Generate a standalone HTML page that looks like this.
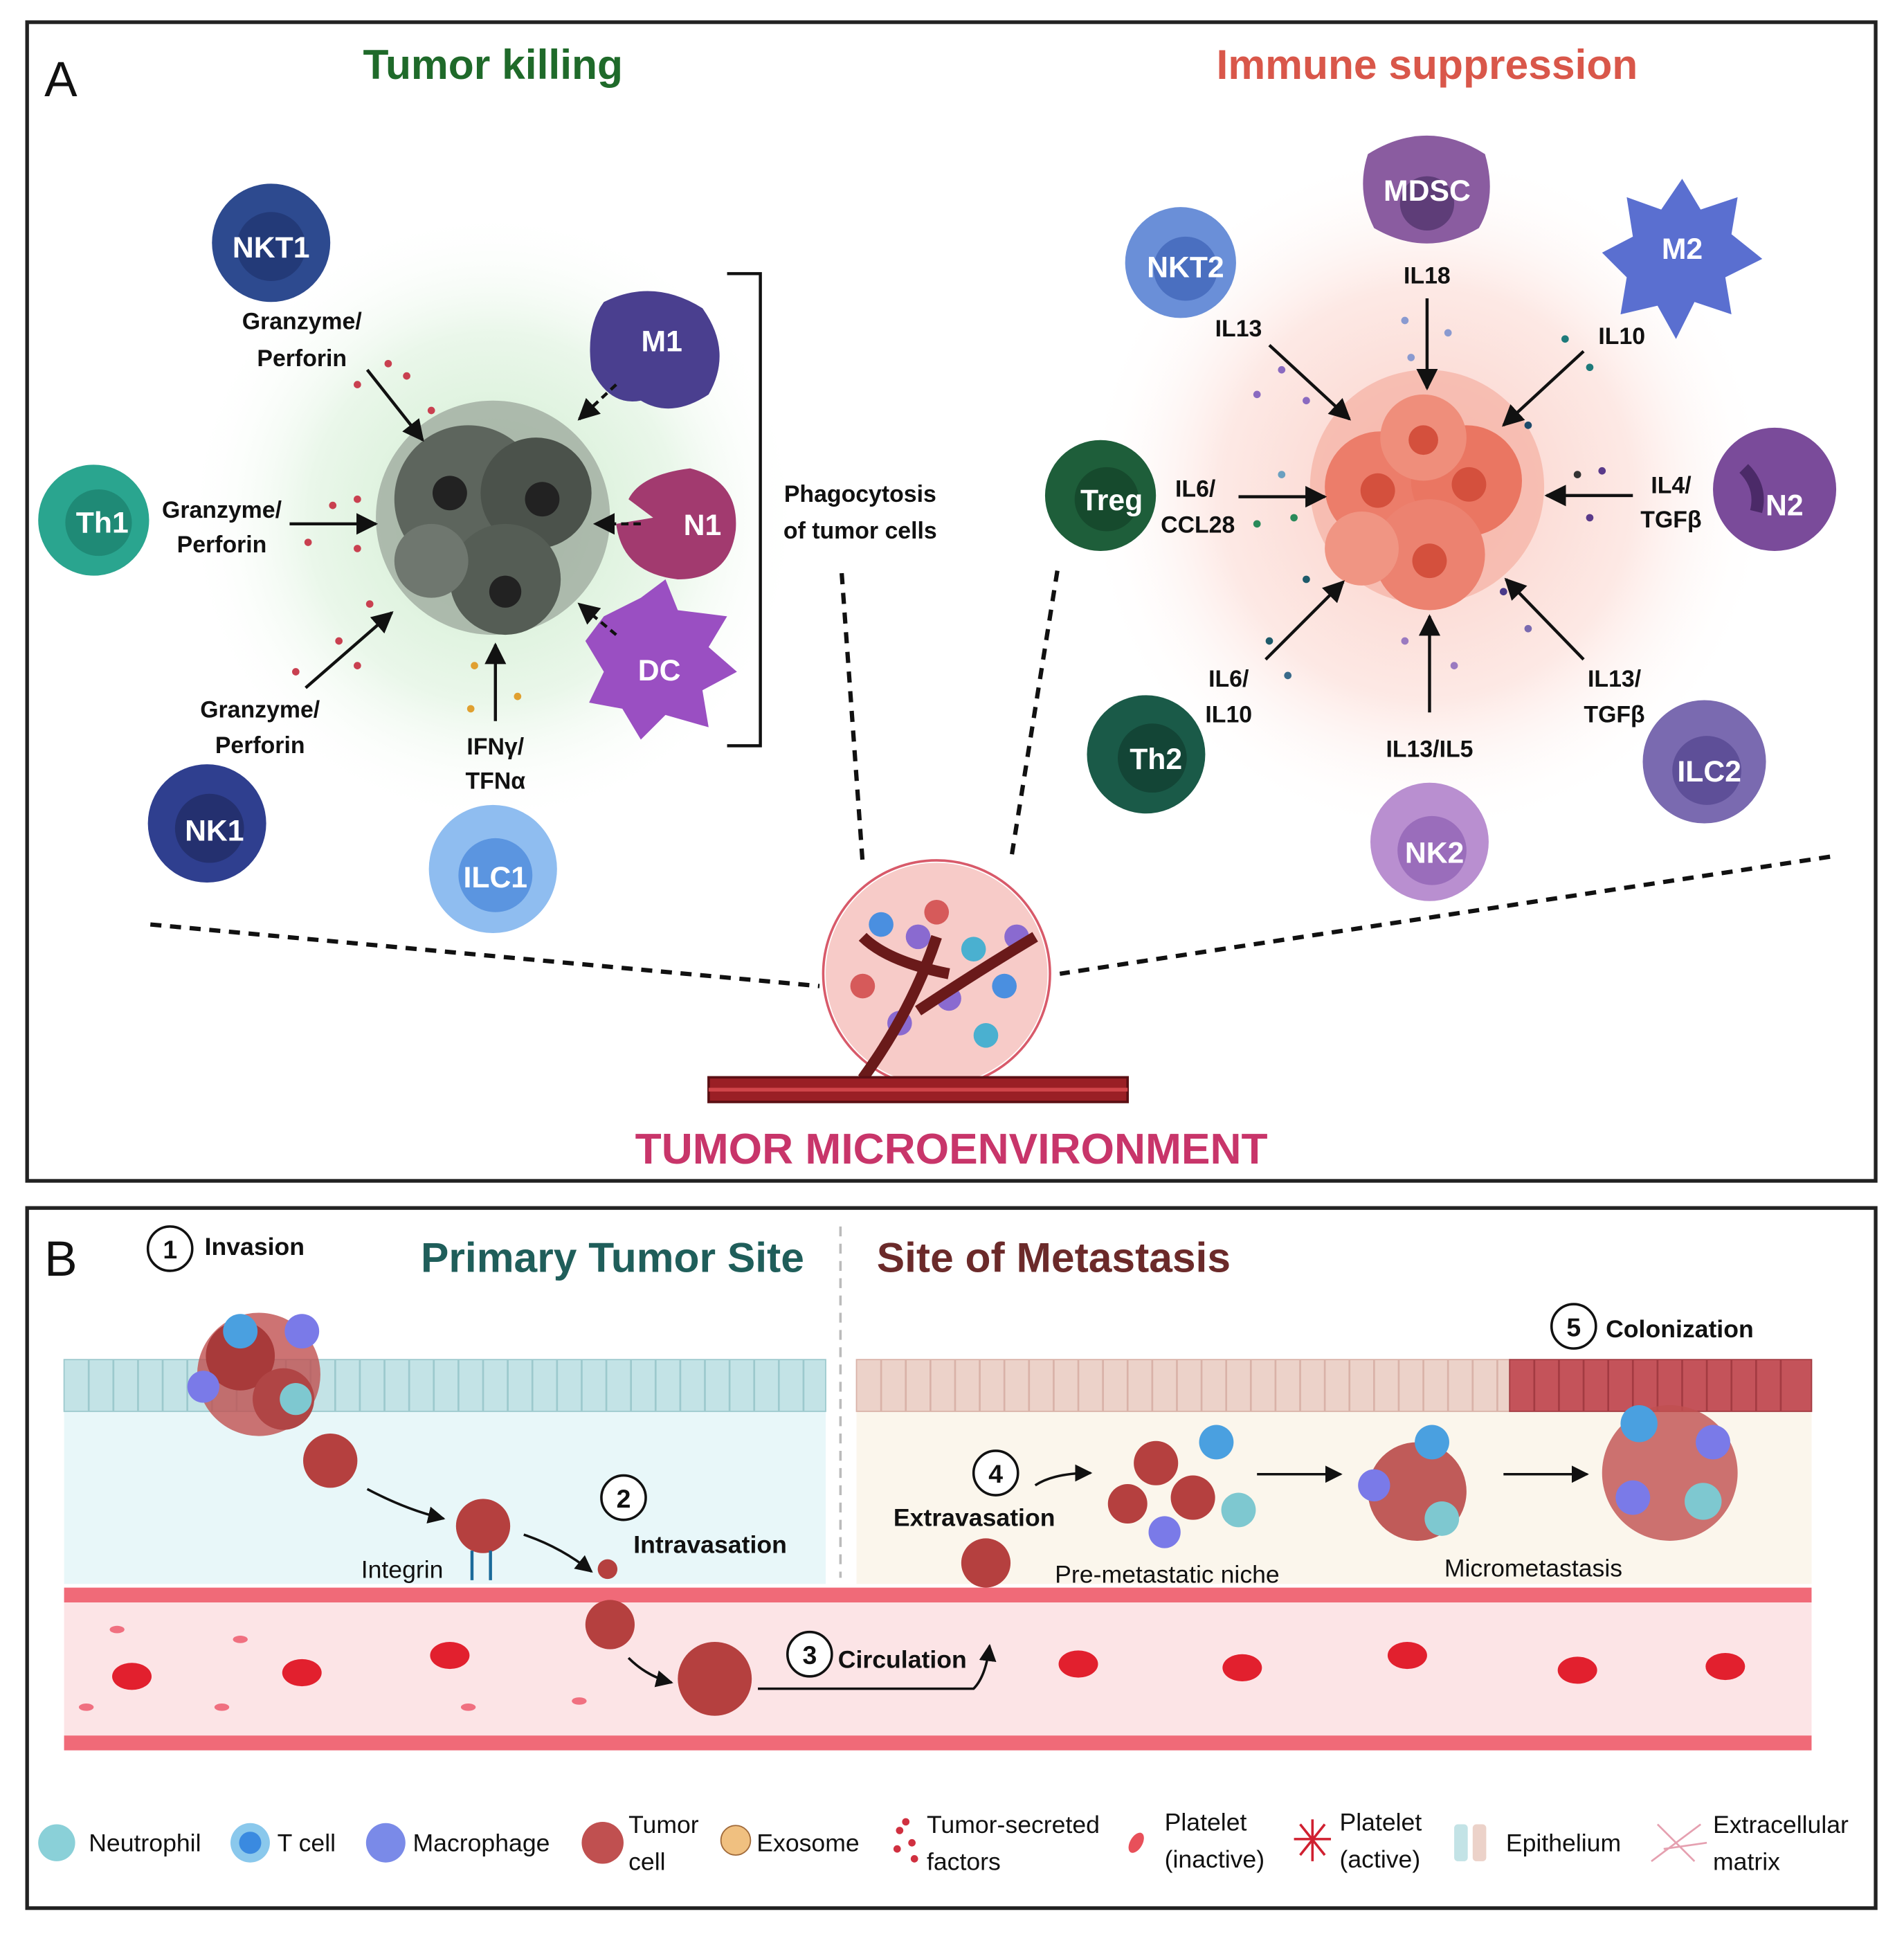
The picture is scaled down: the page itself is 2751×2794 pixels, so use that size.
<!DOCTYPE html>
<html><head><meta charset="utf-8"><style>
html,body{margin:0;padding:0;background:#fff}
svg{display:block}
text{font-family:"Liberation Sans",sans-serif;font-weight:bold}
text.n{font-weight:normal !important}
</style></head><body>
<svg width="2751" height="2794" viewBox="0 0 1545 1569" preserveAspectRatio="none" xmlns="http://www.w3.org/2000/svg">
<defs>
<radialGradient id="gg"><stop offset="0" stop-color="#cfeccf"/><stop offset="0.6" stop-color="#eaf7ea"/><stop offset="1" stop-color="#fff" stop-opacity="0"/></radialGradient>
<radialGradient id="rg"><stop offset="0" stop-color="#fbd0c8"/><stop offset="0.6" stop-color="#fde9e5"/><stop offset="1" stop-color="#fff" stop-opacity="0"/></radialGradient>
<marker id="ah" viewBox="0 0 10 10" refX="9" refY="5" markerWidth="7" markerHeight="7" orient="auto"><path d="M0,0L10,5L0,10z" fill="#111"/></marker>
</defs>
<rect x="0" y="0" width="1545" height="1569" fill="#fff"/>
<rect x="22" y="18" width="1500" height="940" fill="#fff" stroke="#222" stroke-width="3"/>
<text x="36" y="78" font-size="40" class="n" fill="#111">A</text>
<text x="400" y="64" font-size="34" fill="#1f6a2a" text-anchor="middle">Tumor killing</text>
<text x="1158" y="64" font-size="34" fill="#d9574a" text-anchor="middle">Immune suppression</text>
<circle cx="400" cy="420" r="250" fill="url(#gg)"/>
<circle cx="1158" cy="400" r="280" fill="url(#rg)"/>
<g>
<circle cx="400" cy="420" r="95" fill="#8a958a" opacity="0.6"/>
<circle cx="380" cy="405" r="60" fill="#5d655d"/>
<circle cx="435" cy="400" r="45" fill="#4b524b"/>
<circle cx="410" cy="470" r="45" fill="#555d55"/>
<circle cx="350" cy="455" r="30" fill="#6f776f"/>
<circle cx="365" cy="400" r="14" fill="#222"/><circle cx="440" cy="405" r="14" fill="#222"/><circle cx="410" cy="480" r="13" fill="#222"/>
</g>
<g font-size="24" fill="#fff" text-anchor="middle">
<circle cx="220" cy="197" r="48" fill="#2d4a8f"/><circle cx="220" cy="200" r="28" fill="#233a78"/><text x="220" y="209" fill="#fff">NKT1</text>
<circle cx="76" cy="422" r="45" fill="#2aa58f"/><circle cx="80" cy="424" r="27" fill="#1f8a76"/><text x="83" y="432" fill="#fff">Th1</text>
<circle cx="168" cy="668" r="48" fill="#2f3f8f"/><circle cx="170" cy="672" r="28" fill="#24306f"/><text x="174" y="682" fill="#fff">NK1</text>
<circle cx="400" cy="705" r="52" fill="#8fbdf0"/><circle cx="402" cy="710" r="30" fill="#5b95e0"/><text x="402" y="720" fill="#fff">ILC1</text>
<path d="M490,245 Q530,225 570,250 Q595,285 575,320 Q545,340 520,325 Q495,330 480,300 Q475,265 490,245z" fill="#4a3f8f"/><text x="537" y="285" fill="#fff">M1</text>
<path d="M560,380 Q600,390 597,430 Q592,470 550,470 Q505,465 500,425 L530,420 L510,405 Q520,385 560,380z" fill="#a23a6f"/><text x="570" y="434" fill="#fff">N1</text>
<path d="M490,500 L520,485 L540,470 L550,495 L590,500 L575,525 L598,545 L570,560 L575,590 L540,580 L520,600 L505,575 L478,570 L490,545 L475,520z" fill="#9a4fc2"/><text x="535" y="552" fill="#fff">DC</text>
</g>
<g font-size="19" fill="#111" text-anchor="middle">
<text x="245" y="267">Granzyme/</text><text x="245" y="297">Perforin</text>
<text x="180" y="420">Granzyme/</text><text x="180" y="448">Perforin</text>
<text x="211" y="582">Granzyme/</text><text x="211" y="611">Perforin</text>
<text x="402" y="612">IFNγ/</text><text x="402" y="640">TFNα</text>
<text x="698" y="407">Phagocytosis</text><text x="698" y="437">of tumor cells</text>
</g>
<g stroke="#111" stroke-width="2.5" fill="none" marker-end="url(#ah)">
<line x1="298" y1="300" x2="343" y2="357"/>
<line x1="235" y1="425" x2="305" y2="425"/>
<line x1="248" y1="558" x2="318" y2="497"/>
<line x1="402" y1="585" x2="402" y2="523"/>
<line x1="500" y1="312" x2="470" y2="340" stroke-dasharray="6,4"/>
<line x1="520" y1="425" x2="483" y2="425" stroke-dasharray="6,4"/>
<line x1="500" y1="515" x2="470" y2="490" stroke-dasharray="6,4"/>
</g>
<path d="M590,222 H617 V605 H590" stroke="#111" stroke-width="2.5" fill="none"/>
<g fill="#c94050">
<circle cx="290" cy="312" r="3"/><circle cx="315" cy="295" r="3"/><circle cx="330" cy="305" r="3"/><circle cx="350" cy="333" r="3"/><circle cx="270" cy="410" r="3"/><circle cx="290" cy="405" r="3"/><circle cx="250" cy="440" r="3"/><circle cx="290" cy="445" r="3"/><circle cx="240" cy="545" r="3"/><circle cx="275" cy="520" r="3"/><circle cx="300" cy="490" r="3"/><circle cx="290" cy="540" r="3"/><circle cx="385" cy="540" r="3" fill="#e0a030"/><circle cx="420" cy="565" r="3" fill="#e0a030"/><circle cx="382" cy="575" r="3" fill="#e0a030"/>
</g>
<g>
<circle cx="1158" cy="395" r="95" fill="#f4a89a" opacity="0.6"/>
<circle cx="1120" cy="395" r="45" fill="#ec7d6a"/><circle cx="1190" cy="390" r="45" fill="#ea7662"/><circle cx="1160" cy="450" r="45" fill="#ec8270"/><circle cx="1155" cy="355" r="35" fill="#ef8e7b"/><circle cx="1105" cy="445" r="30" fill="#f09583"/>
<circle cx="1118" cy="398" r="14" fill="#d4503d"/><circle cx="1192" cy="393" r="14" fill="#d4503d"/><circle cx="1160" cy="455" r="14" fill="#d4503d"/><circle cx="1155" cy="357" r="12" fill="#d4503d"/>
</g>
<g font-size="24" fill="#fff" text-anchor="middle">
<path d="M1110,125 Q1158,95 1205,125 Q1215,160 1200,185 Q1158,210 1115,185 Q1100,155 1110,125z" fill="#8a5ca0"/><circle cx="1158" cy="165" r="22" fill="#5e3d78"/><text x="1158" y="163">MDSC</text>
<circle cx="958" cy="213" r="45" fill="#6a8fd8"/><circle cx="962" cy="218" r="26" fill="#4a6fc0"/><text x="962" y="225">NKT2</text>
<path d="M1365,145 L1380,170 L1410,160 L1405,190 L1430,210 L1400,225 L1405,255 L1375,245 L1360,275 L1345,248 L1315,255 L1320,225 L1300,205 L1325,192 L1320,160 L1348,170z" fill="#5a6fd0"/><text x="1365" y="210">M2</text>
<circle cx="893" cy="402" r="45" fill="#1e5e3a"/><circle cx="898" cy="405" r="26" fill="#164a2d"/><text x="902" y="414">Treg</text>
<circle cx="1440" cy="397" r="50" fill="#7a4b9a"/><text x="1448" y="418">N2</text><path d="M1415,380 Q1430,395 1425,415" stroke="#4b2a68" stroke-width="10" fill="none"/>
<circle cx="930" cy="612" r="48" fill="#1a5a48"/><circle cx="935" cy="615" r="28" fill="#134536"/><text x="938" y="624">Th2</text>
<circle cx="1160" cy="683" r="48" fill="#b98fd0"/><circle cx="1162" cy="690" r="28" fill="#9a6dbb"/><text x="1164" y="700">NK2</text>
<circle cx="1383" cy="618" r="50" fill="#7a6ab0"/><circle cx="1385" cy="625" r="28" fill="#5e4f98"/><text x="1387" y="634">ILC2</text>
</g>
<g font-size="19" fill="#111" text-anchor="middle">
<text x="1158" y="230">IL18</text>
<text x="1005" y="273">IL13</text>
<text x="1316" y="279">IL10</text>
<text x="970" y="403">IL6/</text><text x="972" y="432">CCL28</text>
<text x="1356" y="400">IL4/</text><text x="1356" y="428">TGFβ</text>
<text x="997" y="557">IL6/</text><text x="997" y="586">IL10</text>
<text x="1310" y="557">IL13/</text><text x="1310" y="586">TGFβ</text>
<text x="1160" y="614">IL13/IL5</text>
</g>
<g stroke="#111" stroke-width="2.5" fill="none" marker-end="url(#ah)">
<line x1="1158" y1="242" x2="1158" y2="315"/>
<line x1="1030" y1="280" x2="1095" y2="340"/>
<line x1="1285" y1="285" x2="1220" y2="345"/>
<line x1="1005" y1="403" x2="1075" y2="403"/>
<line x1="1325" y1="402" x2="1255" y2="402"/>
<line x1="1027" y1="535" x2="1090" y2="472"/>
<line x1="1285" y1="535" x2="1222" y2="470"/>
<line x1="1160" y1="578" x2="1160" y2="500"/>
</g>
<g fill="#3a6a8a">
<circle cx="1040" cy="300" r="3" fill="#8a6ac0"/><circle cx="1060" cy="325" r="3" fill="#8a6ac0"/><circle cx="1020" cy="320" r="3" fill="#8a6ac0"/><circle cx="1140" cy="260" r="3" fill="#8a9ad0"/><circle cx="1175" cy="270" r="3" fill="#8a9ad0"/><circle cx="1145" cy="290" r="3" fill="#8a9ad0"/>
<circle cx="1270" cy="275" r="3" fill="#1e7a7a"/><circle cx="1290" cy="298" r="3" fill="#1e7a7a"/><circle cx="1240" cy="345" r="3" fill="#1e4a6a"/>
<circle cx="1040" cy="385" r="3" fill="#6aa0c0"/><circle cx="1050" cy="420" r="3" fill="#2a8a5a"/><circle cx="1020" cy="425" r="3" fill="#2a8a5a"/>
<circle cx="1280" cy="385" r="3" fill="#333"/><circle cx="1300" cy="382" r="3" fill="#5a3a8a"/><circle cx="1290" cy="420" r="3" fill="#5a3a8a"/>
<circle cx="1030" cy="520" r="3" fill="#1e5a6a"/><circle cx="1060" cy="470" r="3" fill="#1e5a6a"/><circle cx="1045" cy="548" r="3"/><circle cx="1140" cy="520" r="3" fill="#9a7ac0"/><circle cx="1180" cy="540" r="3" fill="#9a7ac0"/><circle cx="1220" cy="480" r="3" fill="#4a3a8a"/><circle cx="1240" cy="510" r="3" fill="#7a6ab0"/>
</g>
<g stroke="#111" stroke-width="3.5" stroke-dasharray="9,7" fill="none">
<line x1="683" y1="465" x2="700" y2="700"/>
<line x1="858" y1="463" x2="820" y2="700"/>
<line x1="122" y1="750" x2="665" y2="800"/>
<line x1="1485" y1="695" x2="860" y2="790"/>
</g>
<g>
<ellipse cx="760" cy="790" rx="90" ry="90" fill="#f3b5b0" opacity="0.7"/>
<ellipse cx="760" cy="790" rx="92" ry="92" fill="none" stroke="#d85a6a" stroke-width="2"/>
<circle cx="715" cy="750" r="10" fill="#4a8fe0"/><circle cx="745" cy="760" r="10" fill="#8a6ad0"/><circle cx="790" cy="770" r="10" fill="#4ab0d0"/><circle cx="700" cy="800" r="10" fill="#d65a5a"/><circle cx="770" cy="810" r="10" fill="#8a6ad0"/><circle cx="815" cy="800" r="10" fill="#4a8fe0"/><circle cx="730" cy="830" r="10" fill="#8a6ad0"/><circle cx="800" cy="840" r="10" fill="#4ab0d0"/><circle cx="760" cy="740" r="10" fill="#d65a5a"/><circle cx="825" cy="760" r="10" fill="#8a6ad0"/>
<path d="M700,875 Q740,820 760,760 M745,820 Q790,790 840,760 M770,790 Q720,780 700,760" stroke="#6a1a1a" stroke-width="9" fill="none"/>
<rect x="575" y="874" width="340" height="20" fill="#9a1f25" stroke="#5a0f14" stroke-width="2"/>
<line x1="575" y1="884" x2="915" y2="884" stroke="#d0454a" stroke-width="3"/>
</g>
<text x="772" y="944" font-size="35" fill="#c8356a" text-anchor="middle">TUMOR MICROENVIRONMENT</text>

<rect x="22" y="980" width="1500" height="568" fill="#fff" stroke="#222" stroke-width="3"/>
<text x="36" y="1035" font-size="40" class="n" fill="#111">B</text>
<text x="497" y="1032" font-size="34" fill="#1f5e5a" text-anchor="middle">Primary Tumor Site</text>
<text x="855" y="1032" font-size="34" fill="#6b2a2a" text-anchor="middle">Site of Metastasis</text>
<line x1="682" y1="995" x2="682" y2="1280" stroke="#bbb" stroke-width="2" stroke-dasharray="8,6"/>
<rect x="52" y="1145" width="618" height="140" fill="#e8f7f9"/>
<rect x="695" y="1145" width="775" height="140" fill="#fbf6ec"/>
<rect x="52" y="1103" width="618" height="42" fill="#c3e3e6" stroke="#9cc9cd"/>
<rect x="695" y="1103" width="530" height="42" fill="#ecd2c9" stroke="#d9b2a8"/>
<rect x="1225" y="1103" width="245" height="42" fill="#c4535a" stroke="#a33b42"/>
<g stroke="#9cc9cd" stroke-width="1.5">
<path d="M72,1103V1145M92,1103V1145M112,1103V1145M132,1103V1145M152,1103V1145M172,1103V1145M192,1103V1145M212,1103V1145M232,1103V1145M252,1103V1145M272,1103V1145M292,1103V1145M312,1103V1145M332,1103V1145M352,1103V1145M372,1103V1145M392,1103V1145M412,1103V1145M432,1103V1145M452,1103V1145M472,1103V1145M492,1103V1145M512,1103V1145M532,1103V1145M552,1103V1145M572,1103V1145M592,1103V1145M612,1103V1145M632,1103V1145M652,1103V1145"/>
</g>
<g stroke="#d9b2a8" stroke-width="1.5">
<path d="M715,1103V1145M735,1103V1145M755,1103V1145M775,1103V1145M795,1103V1145M815,1103V1145M835,1103V1145M855,1103V1145M875,1103V1145M895,1103V1145M915,1103V1145M935,1103V1145M955,1103V1145M975,1103V1145M995,1103V1145M1015,1103V1145M1035,1103V1145M1055,1103V1145M1075,1103V1145M1095,1103V1145M1115,1103V1145M1135,1103V1145M1155,1103V1145M1175,1103V1145M1195,1103V1145M1215,1103V1145"/>
</g>
<g stroke="#a33b42" stroke-width="1.5"><path d="M1245,1103V1145M1265,1103V1145M1285,1103V1145M1305,1103V1145M1325,1103V1145M1345,1103V1145M1365,1103V1145M1385,1103V1145M1405,1103V1145M1425,1103V1145M1445,1103V1145"/></g>
<rect x="52" y="1290" width="1418" height="130" fill="#fce4e6"/>
<rect x="52" y="1288" width="1418" height="12" fill="#f06a78"/>
<rect x="52" y="1408" width="1418" height="12" fill="#f06a78"/>
<g fill="#e2202e">
<ellipse cx="107" cy="1360" rx="16" ry="11"/><ellipse cx="245" cy="1357" rx="16" ry="11"/><ellipse cx="365" cy="1343" rx="16" ry="11"/><ellipse cx="875" cy="1350" rx="16" ry="11"/><ellipse cx="1008" cy="1353" rx="16" ry="11"/><ellipse cx="1142" cy="1343" rx="16" ry="11"/><ellipse cx="1280" cy="1355" rx="16" ry="11"/><ellipse cx="1400" cy="1352" rx="16" ry="11"/>
</g>
<g fill="#f07080"><ellipse cx="95" cy="1322" rx="6" ry="3"/><ellipse cx="180" cy="1385" rx="6" ry="3"/><ellipse cx="195" cy="1330" rx="6" ry="3"/><ellipse cx="70" cy="1385" rx="6" ry="3"/><ellipse cx="380" cy="1385" rx="6" ry="3"/><ellipse cx="470" cy="1380" rx="6" ry="3"/></g>
<g>
<circle cx="210" cy="1115" r="50" fill="#c05050" opacity="0.8"/><circle cx="195" cy="1100" r="28" fill="#a83a3a"/><circle cx="230" cy="1135" r="25" fill="#b04545"/>
<circle cx="195" cy="1080" r="14" fill="#4aa0e0"/><circle cx="245" cy="1080" r="14" fill="#7a7ae8"/><circle cx="165" cy="1125" r="13" fill="#7a7ae8"/><circle cx="240" cy="1135" r="13" fill="#7ec8d0"/>
<circle cx="268" cy="1185" r="22" fill="#b5403f"/><circle cx="392" cy="1238" r="22" fill="#b5403f"/>
<circle cx="493" cy="1273" r="8" fill="#b5403f"/><circle cx="495" cy="1318" r="20" fill="#b5403f"/>
<circle cx="580" cy="1362" r="30" fill="#b5403f"/><circle cx="800" cy="1268" r="20" fill="#b5403f"/>
<circle cx="938" cy="1187" r="18" fill="#b5403f"/><circle cx="968" cy="1215" r="18" fill="#b5403f"/><circle cx="915" cy="1220" r="16" fill="#b5403f"/><circle cx="987" cy="1170" r="14" fill="#4aa0e0"/><circle cx="1005" cy="1225" r="14" fill="#7ec8d0"/><circle cx="945" cy="1243" r="13" fill="#7a7ae8"/>
<circle cx="1150" cy="1210" r="40" fill="#b5403f" opacity="0.85"/><circle cx="1162" cy="1170" r="14" fill="#4aa0e0"/><circle cx="1115" cy="1205" r="13" fill="#7a7ae8"/><circle cx="1170" cy="1232" r="14" fill="#7ec8d0"/>
<circle cx="1355" cy="1195" r="55" fill="#c05050" opacity="0.8"/><circle cx="1330" cy="1155" r="15" fill="#4aa0e0"/><circle cx="1390" cy="1170" r="14" fill="#7a7ae8"/><circle cx="1325" cy="1215" r="14" fill="#7a7ae8"/><circle cx="1382" cy="1218" r="15" fill="#7ec8d0"/>
</g>
<g stroke="#111" stroke-width="2" fill="none" marker-end="url(#ah)">
<path d="M298,1208 Q330,1225 360,1232"/>
<path d="M425,1245 Q455,1255 480,1275"/>
<path d="M510,1345 Q525,1360 545,1365"/>
<path d="M615,1370 L790,1370 Q800,1360 803,1335"/>
<path d="M840,1205 Q855,1195 885,1195"/>
<line x1="1020" y1="1196" x2="1088" y2="1196"/>
<line x1="1220" y1="1196" x2="1288" y2="1196"/>
</g>
<g stroke="#1a6a9a" stroke-width="2.5"><line x1="383" y1="1258" x2="383" y2="1282"/><line x1="398" y1="1258" x2="398" y2="1282"/></g>
<g font-size="20" fill="#111">
<circle cx="138" cy="1013" r="18" fill="#fff" stroke="#111" stroke-width="2"/><text x="138" y="1021" text-anchor="middle" font-size="21">1</text><text x="166" y="1018">Invasion</text>
<circle cx="506" cy="1215" r="18" fill="#fff" stroke="#111" stroke-width="2"/><text x="506" y="1223" text-anchor="middle" font-size="21">2</text><text x="514" y="1260">Intravasation</text>
<text x="293" y="1280" class="n">Integrin</text>
<circle cx="657" cy="1342" r="18" fill="#fff" stroke="#111" stroke-width="2"/><text x="657" y="1350" text-anchor="middle" font-size="21">3</text><text x="680" y="1353">Circulation</text>
<circle cx="808" cy="1195" r="18" fill="#fff" stroke="#111" stroke-width="2"/><text x="808" y="1203" text-anchor="middle" font-size="21">4</text><text x="725" y="1238">Extravasation</text>
<text x="856" y="1284" class="n">Pre-metastatic niche</text>
<text x="1172" y="1279" class="n">Micrometastasis</text>
<circle cx="1277" cy="1076" r="18" fill="#fff" stroke="#111" stroke-width="2"/><text x="1277" y="1084" text-anchor="middle" font-size="21">5</text><text x="1303" y="1085">Colonization</text>
</g>
<g font-size="20" fill="#111">
<circle cx="46" cy="1495" r="15" fill="#8ad0d8"/><text x="72" y="1502" class="n">Neutrophil</text>
<circle cx="203" cy="1495" r="16" fill="#8ac8ec"/><circle cx="203" cy="1495" r="9" fill="#3a8ae0"/><text x="225" y="1502" class="n">T cell</text>
<circle cx="313" cy="1495" r="16" fill="#7a8ae8"/><text x="335" y="1502" class="n">Macrophage</text>
<circle cx="489" cy="1495" r="17" fill="#c05050"/><text x="510" y="1487" class="n">Tumor</text><text x="510" y="1517" class="n">cell</text>
<circle cx="597" cy="1493" r="12" fill="#f0c080" stroke="#a06a3a"/><text x="614" y="1502" class="n">Exosome</text>
<g fill="#d03040"><circle cx="730" cy="1485" r="3"/><circle cx="740" cy="1495" r="3"/><circle cx="728" cy="1500" r="3"/><circle cx="742" cy="1508" r="3"/><circle cx="735" cy="1478" r="3"/></g>
<text x="752" y="1487" class="n">Tumor-secreted</text><text x="752" y="1517" class="n">factors</text>
<ellipse cx="922" cy="1495" rx="5" ry="9" fill="#e8505a" transform="rotate(30 922 1495)"/><text x="945" y="1485" class="n">Platelet</text><text x="945" y="1515" class="n">(inactive)</text>
<path d="M1055,1480L1075,1505M1075,1480L1055,1505M1065,1476V1510M1050,1492H1080" stroke="#d02030" stroke-width="2"/><text x="1087" y="1485" class="n">Platelet</text><text x="1087" y="1515" class="n">(active)</text>
<rect x="1180" y="1480" width="11" height="30" fill="#c3e3e6" rx="3"/><rect x="1195" y="1480" width="11" height="30" fill="#ecd2c9" rx="3"/><text x="1222" y="1502" class="n">Epithelium</text>
<path d="M1340,1510L1380,1480M1345,1480L1375,1510M1350,1500L1385,1495" stroke="#e5a0b0" stroke-width="1.5" fill="none"/><text x="1390" y="1487" class="n">Extracellular</text><text x="1390" y="1517" class="n">matrix</text>
</g>
</svg>
</body></html>
